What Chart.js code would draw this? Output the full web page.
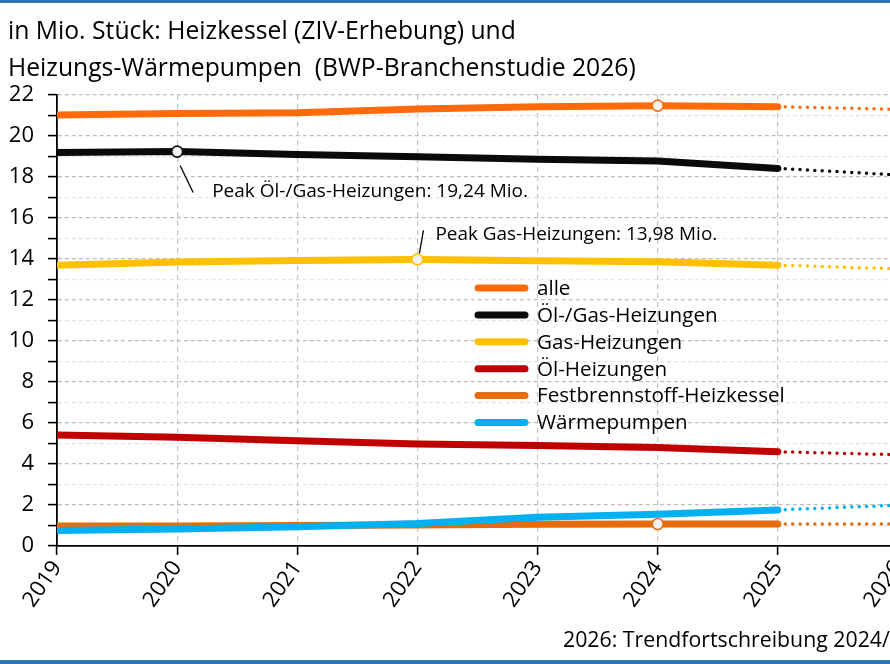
<!DOCTYPE html>
<html>
<head>
<meta charset="utf-8">
<script src="https://cdn.jsdelivr.net/npm/chart.js@4"></script>
<style>
html,body{margin:0;padding:0;background:#fff;overflow:hidden;}
#wrap{position:relative;width:940px;height:664px;}
#bt{position:absolute;left:0;top:0;width:940px;height:3px;background:#2E75B6;}
#bb{position:absolute;left:0;top:660px;width:940px;height:4px;background:#2E75B6;}
canvas{position:absolute;left:0;top:0;}
</style>
</head>
<body>
<div id="wrap">
<canvas id="c" width="940" height="664"></canvas>
<div id="bt"></div><div id="bb"></div>
</div>
<script>
// ---- data ----
const years = ['2019','2020','2021','2022','2023','2024','2025','2026'];
const seriesNames = ['alle','Öl-/Gas-Heizungen','Gas-Heizungen','Öl-Heizungen','Festbrennstoff-Heizkessel','Wärmepumpen'];
const alle   = [21.02, 21.10, 21.14, 21.32, 21.43, 21.48, 21.43];
const oelGas = [19.20, 19.24, 19.10, 18.99, 18.86, 18.78, 18.42];
const gas    = [13.70, 13.85, 13.93, 13.98, 13.92, 13.86, 13.70];
const oel    = [5.41, 5.30, 5.14, 4.98, 4.90, 4.81, 4.60];
const fest   = [0.97, 0.98, 1.00, 1.02, 1.06, 1.07, 1.07];
const wp     = [0.75, 0.83, 0.94, 1.10, 1.40, 1.55, 1.76];
const trend2026 = [21.30, 18.10, 13.52, 4.45, 1.07, 1.99];
const markerIdx = [5, 1, 3, null, 5, null];
const yTicks = [0,2,4,6,8,10,12,14,16,18,20,22];
const titleLines = ['in Mio. Stück: Heizkessel (ZIV-Erhebung) und','Heizungs-Wärmepumpen  (BWP-Branchenstudie 2026)'];
const footer = '2026: Trendfortschreibung 2024/2025';
const notes = [
  {text:'Peak Öl-/Gas-Heizungen: 19,24 Mio.', series:1, idx:1},
  {text:'Peak Gas-Heizungen: 13,98 Mio.', series:2, idx:3}
];

// ---- styles ----
const colors = ['#FF6A0A','#0A0A0A','#FFC000','#C00000','#E46C0A','#00B0F0'];
const drawOrder = [4,3,2,5,6,1];
const FAM = '"Open Sans", Lato, sans-serif';
const allSeries = [alle, oelGas, gas, oel, fest, wp];

function fitSize(ctx, text, target) {
  ctx.font = '20px ' + FAM;
  return 20 * target / ctx.measureText(text).width;
}

const datasets = [];
allSeries.forEach((vals, s) => {
  datasets.push({
    label: seriesNames[s],
    data: vals.concat([null]),
    borderColor: colors[s],
    backgroundColor: colors[s],
    borderWidth: 7,
    borderCapStyle: 'round',
    borderJoinStyle: 'round',
    tension: 0,
    order: drawOrder[s],
    clip: {left: 0, top: false, right: false, bottom: false},
    pointRadius: ctx => ctx.dataIndex === markerIdx[s] ? 5.5 : 0,
    pointBorderWidth: 1.6,
    pointBackgroundColor: '#F2F2F2',
    pointBorderColor: colors[s],
    pointHoverRadius: ctx => ctx.dataIndex === markerIdx[s] ? 5.5 : 0
  });
  const dotted = years.map(() => null);
  dotted[6] = vals[6];
  dotted[7] = trend2026[s];
  datasets.push({
    label: seriesNames[s] + ' Trend',
    data: dotted,
    borderColor: colors[s],
    borderWidth: 3.5,
    borderDash: [0, 7.4],
    borderCapStyle: 'round',
    tension: 0,
    order: drawOrder[s] + 0.5,
    clip: false,
    pointRadius: 0,
    pointHoverRadius: 0
  });
});

const extras = {
  id: 'extras',
  afterDatasetsDraw(chart) {
    const ctx = chart.ctx;
    const xs = chart.scales.x, ys = chart.scales.y;
    ctx.save();
    ctx.fillStyle = '#000';
    ctx.textBaseline = 'alphabetic';
    ctx.textAlign = 'left';
    // title
    const ts = fitSize(ctx, titleLines[1], 628);
    ctx.font = ts + 'px ' + FAM;
    ctx.fillText(titleLines[0], 8, 38.5);
    ctx.fillText(titleLines[1], 8, 76);
    // footer
    const fs = fitSize(ctx, '2026: Trendfortschreibung 2024/', 327);
    ctx.font = fs + 'px ' + FAM;
    ctx.fillText(footer, 563, 647);
    // annotations
    ctx.strokeStyle = '#000';
    ctx.lineWidth = 1.3;
    const n0 = notes[0];
    let px = xs.getPixelForValue(n0.idx), py = ys.getPixelForValue(allSeries[n0.series][n0.idx]);
    ctx.beginPath(); ctx.moveTo(px + 3, py + 14); ctx.lineTo(px + 16, py + 41); ctx.stroke();
    ctx.font = fitSize(ctx, n0.text, 316) + 'px ' + FAM;
    ctx.fillText(n0.text, px + 35, py + 45);
    const n1 = notes[1];
    px = xs.getPixelForValue(n1.idx); py = ys.getPixelForValue(allSeries[n1.series][n1.idx]);
    ctx.beginPath(); ctx.moveTo(px + 2, py - 6); ctx.lineTo(px + 6, py - 29); ctx.stroke();
    ctx.font = fitSize(ctx, n1.text, 282) + 'px ' + FAM;
    ctx.fillText(n1.text, px + 18, py - 19.5);
    // legend
    const ls = fitSize(ctx, seriesNames[4], 248);
    ctx.font = ls + 'px ' + FAM;
    ctx.textBaseline = 'middle';
    ctx.lineCap = 'round';
    ctx.lineWidth = 7;
    seriesNames.forEach((name, i) => {
      const y = 288 + i * 26.9;
      ctx.strokeStyle = colors[i];
      ctx.beginPath(); ctx.moveTo(478, y); ctx.lineTo(525, y); ctx.stroke();
      ctx.fillText(name, 537, y + 1);
    });
    ctx.restore();
  }
};

new Chart(document.getElementById('c'), {
  type: 'line',
  data: {labels: years, datasets},
  options: {
    responsive: false,
    animation: false,
    events: [],
    layout: {padding: {left: 0, right: 42, top: 95, bottom: 0}},
    plugins: {legend: {display: false}, tooltip: {enabled: false}, title: {display: false}},
    scales: {
      x: {
        type: 'category',
        offset: false,
        afterFit: s => { s.height = 118; },
        grid: {
          color: c => c.index === 0 ? 'rgba(0,0,0,0)' : '#C4C4C4',
          lineWidth: 1.2,
          tickColor: '#000',
          tickWidth: 1.6,
          tickLength: 9,
          drawTicks: true
        },
        border: {display: true, color: '#000', width: 1.8, dash: [5, 4]},
        ticks: {
          color: '#000',
          font: {size: 22, family: FAM},
          maxRotation: 55,
          minRotation: 55,
          padding: 1,
          autoSkip: false
        }
      },
      y: {
        min: 0,
        max: 22,
        afterFit: s => { s.width = 57; },
        afterBuildTicks: s => { s.ticks = []; for (let v = 0; v <= 22; v++) s.ticks.push({value: v}); },
        grid: {
          color: c => c.tick.value === 0 ? 'rgba(0,0,0,0)' : (c.tick.value % 2 === 0 ? '#BDBDBD' : '#E3E3E3'),
          lineWidth: 1.2,
          tickColor: '#000',
          tickWidth: 1.6,
          tickLength: 9
        },
        border: {display: true, color: '#000', width: 1.8, dash: [4, 3]},
        ticks: {
          color: '#000',
          font: {size: 22, family: FAM},
          padding: 14,
          autoSkip: false,
          callback: v => yTicks.includes(v) ? String(v) : ''
        }
      }
    }
  },
  plugins: [extras]
});
</script>
</body>
</html>
